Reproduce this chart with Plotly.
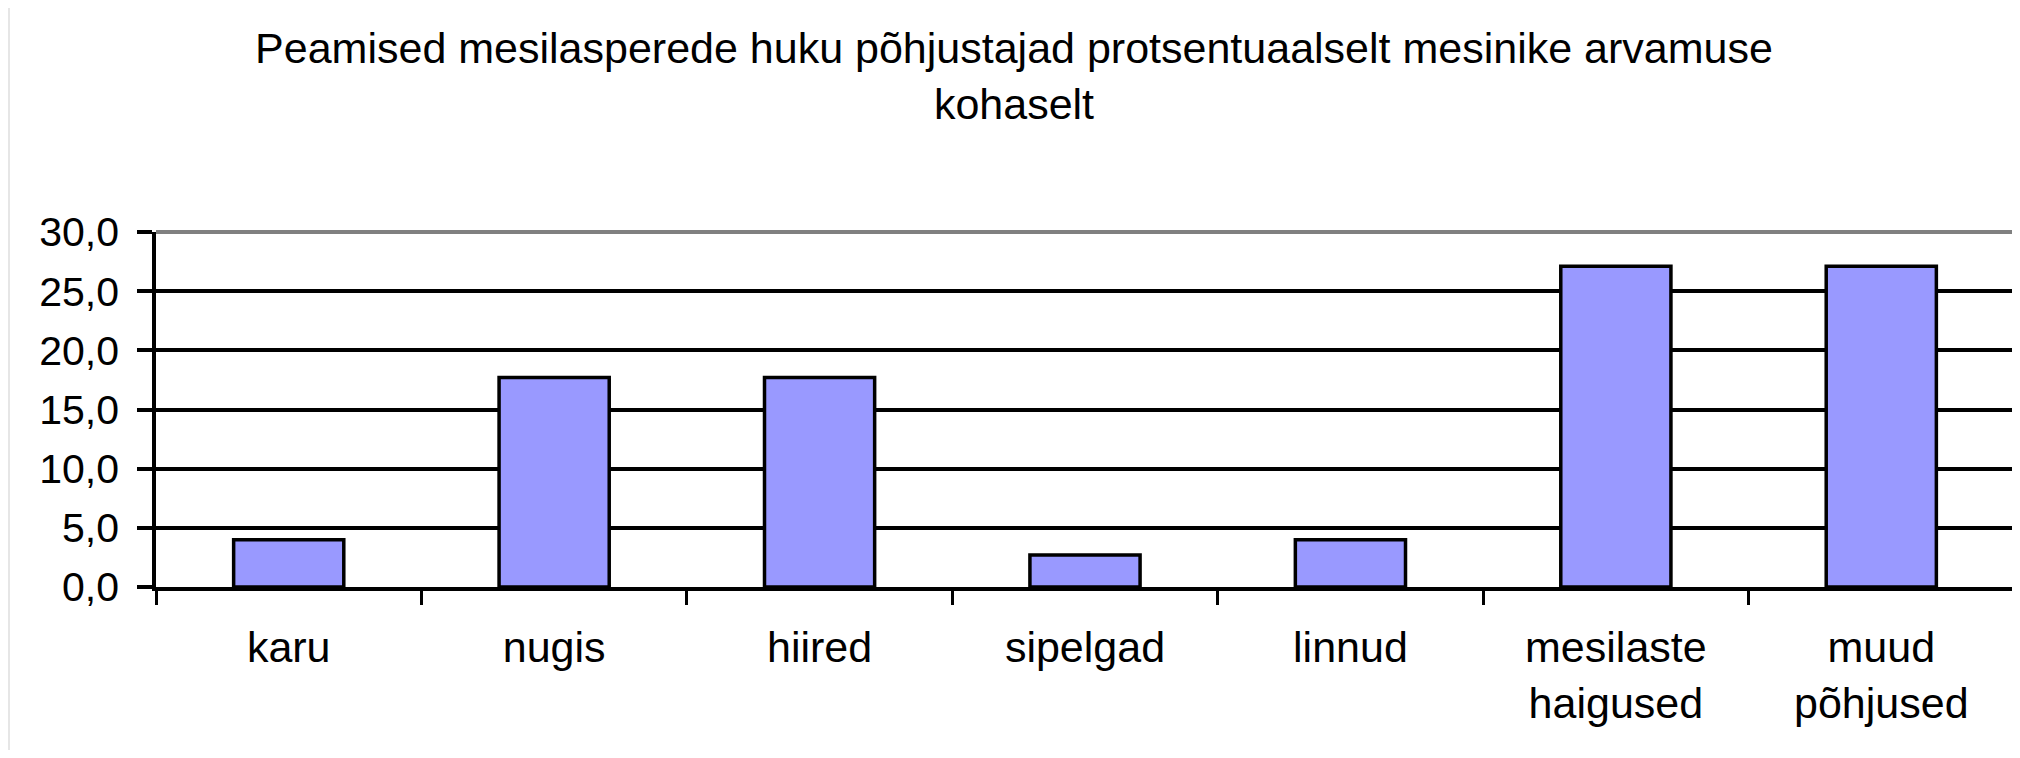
import plotly.graph_objects as go

categories = ["karu", "nugis", "hiired", "sipelgad", "linnud",
              "mesilaste<br>haigused", "muud<br>põhjused"]
values = [4.0, 17.7, 17.7, 2.7, 4.0, 27.1, 27.1]

title_text = ("Peamised mesilasperede huku põhjustajad protsentuaalselt mesinike arvamuse"
              "<br>kohaselt")

# figure sits inside the page's 8px body margin
W, H = 2012, 742
L, R, T, B = 148, 6, 224, 162.5
pw = W - L - R
ph = H - T - B

FONT = "Liberation Sans, Arial, sans-serif"

fig = go.Figure()
fig.add_trace(go.Bar(
    x=categories, y=values,
    marker=dict(color="#9999FF", line=dict(color="black", width=3.5)),
    hoverinfo="x+y",
))

shapes = [
    # white chart area over grey frame
    dict(type="rect", xref="paper", yref="paper",
         x0=(2 - L) / pw, x1=(W - L + 20) / pw,
         y0=-(B + 20) / ph, y1=(H - B + 20) / ph,
         fillcolor="white", line=dict(width=0), layer="below"),
    # grey top border
    dict(type="line", xref="paper", yref="paper", x0=0, x1=(2004 - L) / pw, y0=1, y1=1,
         line=dict(color="#808080", width=4), layer="above"),
    # grey right border
    dict(type="line", xref="paper", yref="paper", x0=(2008.5 - L) / pw, x1=(2008.5 - L) / pw,
         y0=0, y1=(H - B - 222) / ph,
         line=dict(color="#808080", width=3), layer="above"),
]

fig.update_layout(
    width=W, height=H,
    margin=dict(l=L, r=R, t=T, b=B, pad=0),
    paper_bgcolor="#E6E6E6",
    plot_bgcolor="white",
    separators=", ",
    bargap=0.585,
    showlegend=False,
    font=dict(family=FONT, color="black"),
    title=dict(text=title_text, x=0.5, xref="container", xanchor="center",
               y=1 - 55 / H, yref="container", yanchor="top",
               font=dict(family=FONT, size=43, color="black")),
    shapes=shapes,
)

fig.update_xaxes(
    type="category",
    showline=True, linecolor="black", linewidth=3.5,
    ticks="outside", tickson="boundaries", ticklen=14, tickwidth=3, tickcolor="black",
    tickfont=dict(family=FONT, size=43, color="black"),
    ticklabelstandoff=20,
    showgrid=False, zeroline=False,
)

fig.update_yaxes(
    range=[0, 30], dtick=5, tick0=0, tickformat=".1f",
    showline=True, linecolor="black", linewidth=3.5,
    ticks="outside", ticklen=15, tickwidth=3.5, tickcolor="black",
    tickfont=dict(family=FONT, size=41, color="black"),
    ticklabelstandoff=10,
    showgrid=True, gridcolor="black", gridwidth=3.5,
    zeroline=False,
)

fig.write_html("out.html")
